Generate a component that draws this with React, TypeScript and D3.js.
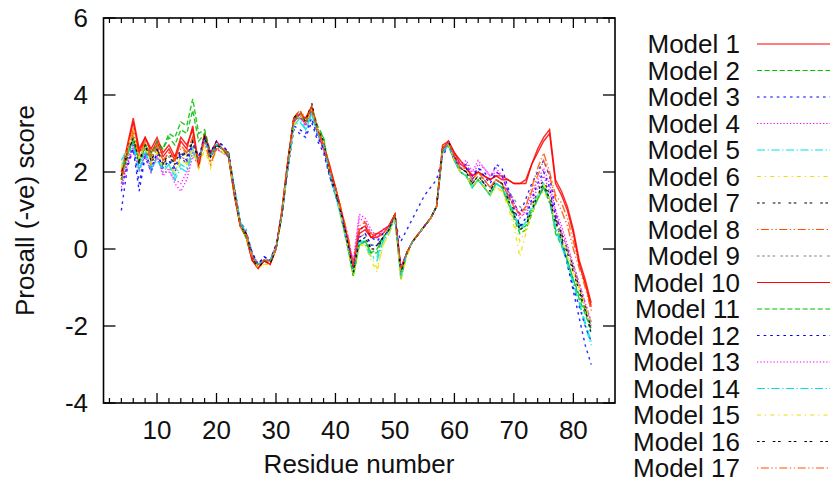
import React from "react";
import * as d3 from "d3";

const residues: number[] = d3.range(4, 84);

const model1 = [2.0, 2.7, 3.4, 2.6, 2.9, 2.5, 2.8, 2.4, 2.6, 2.3, 2.8, 2.6, 3.2, 2.2, 3.0, 2.4, 2.7, 2.6, 2.5, 1.4, 0.6, 0.3, -0.3, -0.5, -0.3, -0.4, 0.0, 1.0, 2.3, 3.4, 3.4, 3.3, 3.6, 3.0, 2.6, 2.1, 1.6, 0.9, 0.3, -0.5, 0.4, 0.5, 0.3, 0.3, 0.4, 0.6, 0.9, -0.6, -0.1, 0.2, 0.4, 0.6, 0.8, 1.1, 2.6, 2.8, 2.5, 2.2, 2.1, 1.9, 2.0, 1.9, 1.8, 1.9, 1.9, 1.8, 1.7, 1.7, 1.7, 2.2, 2.6, 2.9, 3.1, 1.8, 1.5, 1.1, 0.5, -0.3, -0.8, -1.4];
const model2 = [1.9, 2.4, 2.9, 2.2, 2.7, 2.4, 2.8, 2.6, 3.0, 2.9, 3.3, 3.2, 3.9, 3.0, 3.1, 2.5, 2.7, 2.6, 2.4, 1.4, 0.6, 0.3, -0.2, -0.4, -0.3, -0.3, 0.0, 0.9, 2.2, 3.3, 3.5, 3.3, 3.7, 3.2, 2.9, 2.0, 1.5, 0.8, 0.1, -0.7, 0.1, 0.2, -0.1, -0.1, 0.3, 0.5, 0.8, -0.7, -0.1, 0.2, 0.4, 0.6, 0.8, 1.1, 2.6, 2.7, 2.3, 2.0, 1.9, 1.6, 1.8, 1.6, 1.4, 1.7, 1.6, 1.2, 0.8, 0.4, 0.5, 0.9, 1.3, 1.6, 1.3, 0.5, 0.2, -0.3, -0.8, -1.2, -1.6, -2.0];
const model3 = [1.0, 2.1, 2.6, 1.5, 2.4, 2.0, 2.5, 2.1, 2.3, 2.0, 2.4, 2.2, 2.7, 2.4, 2.8, 2.5, 2.8, 2.7, 2.5, 1.5, 0.7, 0.4, -0.1, -0.4, -0.2, -0.3, 0.1, 0.9, 2.1, 3.1, 3.0, 2.9, 3.3, 2.8, 2.5, 1.9, 1.4, 0.9, 0.3, -0.4, 0.5, 0.6, 0.3, 0.2, 0.4, 0.6, 0.7, 0.2, 0.5, 0.8, 1.1, 1.4, 1.6, 1.8, 2.4, 2.7, 2.3, 2.1, 2.2, 1.9, 2.1, 2.0, 1.8, 2.2, 2.1, 1.6, 1.2, 0.9, 1.3, 1.7, 2.0, 2.3, 1.9, 1.0, 0.3, -0.4, -1.1, -1.8, -2.5, -3.0];
const model4 = [1.7, 2.2, 2.7, 2.0, 2.5, 2.1, 2.4, 1.9, 2.1, 1.7, 1.5, 1.8, 2.4, 2.2, 2.9, 2.4, 2.6, 2.5, 2.4, 1.5, 0.6, 0.4, -0.2, -0.4, -0.3, -0.3, 0.0, 0.9, 2.2, 3.3, 3.5, 3.2, 3.6, 3.0, 2.7, 2.0, 1.5, 0.9, 0.3, -0.3, 0.9, 0.8, 0.5, 0.3, 0.5, 0.6, 0.8, -0.5, -0.1, 0.2, 0.4, 0.6, 0.8, 1.1, 2.5, 2.8, 2.4, 2.2, 2.3, 2.0, 2.3, 2.1, 1.9, 2.1, 1.9, 1.5, 1.2, 0.9, 0.9, 1.2, 1.6, 1.9, 1.5, 0.9, 0.5, 0.0, -0.5, -1.0, -1.5, -2.0];
const model5 = [2.3, 2.6, 2.8, 2.1, 2.6, 2.0, 2.4, 2.0, 2.2, 1.9, 2.2, 2.1, 2.6, 2.2, 2.9, 2.4, 2.7, 2.6, 2.5, 1.6, 0.7, 0.4, -0.2, -0.4, -0.3, -0.3, 0.0, 0.9, 2.1, 3.2, 3.4, 3.1, 3.5, 3.0, 2.7, 2.0, 1.4, 0.8, 0.1, -0.6, 0.2, 0.2, -0.2, -0.3, 0.2, 0.4, 0.8, -0.6, -0.1, 0.2, 0.4, 0.6, 0.8, 1.1, 2.5, 2.7, 2.3, 2.0, 1.9, 1.6, 1.8, 1.6, 1.4, 1.7, 1.6, 1.3, 0.9, 0.6, 0.6, 1.0, 1.3, 1.6, 1.2, 0.6, 0.2, -0.3, -0.9, -1.4, -2.0, -2.5];
const model6 = [2.2, 2.5, 3.0, 2.4, 2.6, 2.2, 2.5, 2.1, 2.1, 2.0, 2.3, 2.2, 2.5, 2.1, 2.7, 2.2, 2.6, 2.5, 2.4, 1.5, 0.6, 0.3, -0.2, -0.5, -0.4, -0.4, 0.0, 0.9, 2.2, 3.2, 3.5, 3.3, 3.6, 3.1, 2.8, 2.0, 1.5, 0.8, 0.1, -0.7, 0.1, 0.1, -0.3, -0.6, 0.1, 0.4, 0.8, -0.7, -0.2, 0.2, 0.4, 0.6, 0.8, 1.1, 2.6, 2.7, 2.3, 2.0, 1.9, 1.6, 1.8, 1.6, 1.4, 1.6, 1.5, 1.1, 0.6, -0.2, 0.4, 0.9, 1.3, 1.5, 1.2, 0.6, 0.3, -0.2, -0.6, -1.1, -1.5, -1.9];
const model7 = [1.8, 2.4, 2.9, 2.2, 2.7, 2.2, 2.6, 2.2, 2.4, 2.2, 2.5, 2.4, 2.8, 2.3, 3.0, 2.4, 2.7, 2.6, 2.5, 1.6, 0.6, 0.4, -0.2, -0.5, -0.3, -0.4, 0.0, 0.9, 2.2, 3.4, 3.6, 3.3, 3.7, 3.1, 2.8, 2.0, 1.5, 0.9, 0.2, -0.6, 0.2, 0.3, 0.0, 0.1, 0.3, 0.5, 0.9, -0.6, -0.1, 0.2, 0.4, 0.6, 0.8, 1.1, 2.6, 2.8, 2.4, 2.1, 2.0, 1.7, 1.9, 1.7, 1.5, 1.8, 1.7, 1.4, 1.0, 0.6, 0.7, 1.1, 1.5, 1.8, 1.4, 0.8, 0.4, 0.0, -0.5, -1.0, -1.5, -2.1];
const model8 = [1.9, 2.6, 3.1, 2.5, 2.8, 2.3, 2.7, 2.3, 2.5, 2.4, 2.7, 2.5, 2.9, 2.2, 2.9, 2.3, 2.6, 2.6, 2.5, 1.5, 0.6, 0.4, -0.2, -0.4, -0.3, -0.3, 0.0, 1.0, 2.3, 3.4, 3.6, 3.4, 3.7, 3.1, 2.7, 2.1, 1.6, 1.0, 0.4, -0.4, 0.6, 0.7, 0.4, 0.4, 0.4, 0.6, 0.9, -0.5, -0.1, 0.2, 0.4, 0.6, 0.8, 1.1, 2.6, 2.8, 2.4, 2.1, 2.1, 1.8, 2.0, 1.8, 1.6, 1.8, 1.7, 1.4, 1.1, 0.9, 1.1, 1.6, 2.1, 2.5, 2.0, 1.4, 1.2, 0.8, 0.2, -0.4, -0.9, -1.5];
const model9 = [1.7, 2.3, 2.8, 2.3, 2.6, 2.3, 2.6, 2.3, 2.4, 2.1, 2.4, 2.3, 2.7, 2.4, 2.8, 2.5, 2.7, 2.7, 2.5, 1.6, 0.7, 0.5, -0.1, -0.4, -0.3, -0.3, 0.1, 1.0, 2.2, 3.3, 3.5, 3.2, 3.6, 3.1, 2.8, 2.0, 1.5, 0.9, 0.2, -0.5, 0.3, 0.4, 0.1, 0.1, 0.3, 0.5, 0.9, -0.6, -0.1, 0.2, 0.4, 0.6, 0.8, 1.1, 2.5, 2.7, 2.3, 2.1, 2.0, 1.7, 1.9, 1.8, 1.6, 1.8, 1.7, 1.5, 1.3, 1.1, 1.0, 1.2, 1.4, 1.6, 1.2, 0.7, 0.4, 0.0, -0.4, -0.9, -1.4, -1.9];
const model10 = [1.9, 2.6, 3.3, 2.5, 2.9, 2.6, 2.9, 2.5, 2.7, 2.4, 2.9, 2.7, 3.1, 2.1, 3.0, 2.5, 2.8, 2.6, 2.4, 1.4, 0.6, 0.3, -0.3, -0.5, -0.3, -0.4, 0.0, 1.0, 2.3, 3.4, 3.5, 3.4, 3.7, 3.1, 2.7, 2.2, 1.6, 1.0, 0.3, -0.5, 0.5, 0.6, 0.3, 0.4, 0.5, 0.6, 0.9, -0.5, -0.1, 0.2, 0.4, 0.6, 0.8, 1.1, 2.7, 2.8, 2.5, 2.3, 2.1, 1.9, 2.0, 1.9, 1.8, 1.9, 1.8, 1.8, 1.7, 1.7, 1.8, 2.2, 2.5, 2.8, 3.0, 1.7, 1.4, 1.0, 0.4, -0.4, -0.9, -1.5];
const model11 = [1.8, 2.5, 2.8, 2.3, 2.7, 2.5, 2.7, 2.6, 2.9, 2.7, 3.1, 3.0, 3.6, 2.8, 3.0, 2.4, 2.7, 2.6, 2.4, 1.5, 0.6, 0.3, -0.2, -0.4, -0.3, -0.3, 0.0, 0.9, 2.2, 3.3, 3.5, 3.3, 3.6, 3.1, 2.9, 2.0, 1.5, 0.8, 0.1, -0.7, 0.1, 0.2, -0.1, 0.0, 0.3, 0.5, 0.9, -0.8, -0.1, 0.2, 0.4, 0.6, 0.8, 1.1, 2.6, 2.7, 2.3, 2.0, 1.9, 1.6, 1.8, 1.6, 1.4, 1.7, 1.6, 1.2, 0.9, 0.5, 0.6, 1.0, 1.3, 1.6, 1.3, 0.4, 0.1, -0.3, -0.8, -1.3, -1.7, -2.1];
const model12 = [1.5, 2.2, 2.7, 1.7, 2.5, 2.1, 2.5, 2.1, 2.3, 2.1, 2.5, 2.3, 2.8, 2.4, 2.9, 2.5, 2.8, 2.7, 2.5, 1.6, 0.7, 0.4, -0.1, -0.4, -0.2, -0.3, 0.1, 0.9, 2.1, 3.2, 3.1, 3.0, 3.4, 2.9, 2.6, 1.9, 1.4, 0.9, 0.2, -0.5, 0.3, 0.4, 0.1, 0.1, 0.3, 0.5, 0.9, -0.5, -0.1, 0.2, 0.4, 0.6, 0.8, 1.1, 2.5, 2.7, 2.3, 2.1, 2.1, 1.8, 2.1, 1.9, 1.7, 2.0, 1.9, 1.5, 1.1, 0.6, 0.8, 1.3, 1.7, 2.0, 1.6, 0.8, 0.2, -0.4, -1.0, -1.5, -2.0, -2.4];
const model13 = [1.6, 2.2, 2.6, 2.1, 2.4, 2.0, 2.4, 2.0, 2.0, 1.8, 1.7, 2.0, 2.5, 2.3, 2.9, 2.4, 2.6, 2.5, 2.4, 1.5, 0.6, 0.4, -0.2, -0.4, -0.3, -0.3, 0.0, 0.9, 2.2, 3.3, 3.5, 3.2, 3.6, 3.0, 2.7, 2.0, 1.5, 0.9, 0.3, -0.4, 0.8, 0.7, 0.4, 0.3, 0.5, 0.6, 0.8, -0.5, -0.1, 0.2, 0.4, 0.6, 0.8, 1.1, 2.5, 2.8, 2.4, 2.2, 2.2, 1.9, 2.2, 2.1, 1.9, 2.0, 1.9, 1.5, 1.2, 0.8, 1.0, 1.4, 1.8, 2.1, 1.7, 1.0, 0.6, 0.1, -0.4, -0.9, -1.4, -1.9];
const model14 = [2.1, 2.5, 2.7, 2.0, 2.5, 2.1, 2.3, 2.1, 2.2, 1.8, 2.1, 2.0, 2.5, 2.3, 2.8, 2.4, 2.7, 2.6, 2.5, 1.6, 0.7, 0.4, -0.2, -0.4, -0.3, -0.3, 0.0, 0.9, 2.1, 3.2, 3.3, 3.1, 3.5, 3.0, 2.7, 2.0, 1.4, 0.8, 0.1, -0.6, 0.2, 0.1, -0.2, -0.2, 0.2, 0.5, 0.8, -0.7, -0.1, 0.2, 0.4, 0.6, 0.8, 1.1, 2.5, 2.7, 2.3, 2.0, 1.9, 1.6, 1.8, 1.6, 1.4, 1.7, 1.6, 1.3, 0.9, 0.5, 0.7, 1.1, 1.4, 1.7, 1.3, 0.5, 0.1, -0.4, -0.9, -1.4, -1.9, -2.4];
const model15 = [2.1, 2.6, 3.1, 2.3, 2.7, 2.2, 2.5, 2.2, 2.2, 2.0, 2.4, 2.2, 2.6, 2.1, 2.6, 2.1, 2.6, 2.5, 2.4, 1.5, 0.6, 0.3, -0.2, -0.5, -0.4, -0.4, 0.0, 0.9, 2.2, 3.2, 3.5, 3.3, 3.6, 3.1, 2.8, 2.0, 1.5, 0.8, 0.1, -0.7, 0.1, 0.1, -0.2, -0.5, 0.1, 0.4, 0.8, -0.8, -0.2, 0.2, 0.4, 0.6, 0.8, 1.1, 2.6, 2.7, 2.3, 2.0, 1.9, 1.6, 1.8, 1.6, 1.4, 1.6, 1.5, 1.2, 0.7, 0.2, 0.5, 1.0, 1.4, 1.7, 1.3, 0.7, 0.3, -0.1, -0.6, -1.0, -1.5, -1.9];
const model16 = [1.9, 2.5, 2.9, 2.3, 2.7, 2.3, 2.6, 2.2, 2.5, 2.2, 2.6, 2.4, 2.8, 2.3, 2.9, 2.4, 2.7, 2.6, 2.5, 1.5, 0.6, 0.4, -0.2, -0.5, -0.3, -0.4, 0.0, 0.9, 2.2, 3.4, 3.6, 3.3, 3.8, 3.1, 2.8, 2.0, 1.5, 0.9, 0.2, -0.6, 0.2, 0.3, 0.0, 0.0, 0.3, 0.5, 0.9, -0.6, -0.1, 0.2, 0.4, 0.6, 0.8, 1.1, 2.6, 2.8, 2.4, 2.1, 2.0, 1.7, 1.9, 1.7, 1.5, 1.8, 1.7, 1.3, 0.9, 0.5, 0.6, 1.0, 1.4, 1.7, 1.3, 0.7, 0.3, -0.1, -0.6, -1.1, -1.6, -2.2];
const model17 = [1.8, 2.5, 3.0, 2.4, 2.8, 2.4, 2.7, 2.3, 2.5, 2.3, 2.6, 2.5, 2.9, 2.3, 2.8, 2.2, 2.6, 2.6, 2.5, 1.5, 0.6, 0.4, -0.2, -0.4, -0.3, -0.3, 0.0, 1.0, 2.3, 3.4, 3.6, 3.3, 3.7, 3.1, 2.7, 2.1, 1.6, 1.0, 0.4, -0.4, 0.5, 0.6, 0.4, 0.3, 0.4, 0.6, 0.9, -0.5, -0.1, 0.2, 0.4, 0.6, 0.8, 1.1, 2.6, 2.8, 2.4, 2.1, 2.1, 1.8, 2.0, 1.8, 1.6, 1.8, 1.7, 1.4, 1.1, 0.9, 1.1, 1.5, 1.9, 2.3, 1.9, 1.3, 1.0, 0.6, 0.0, -0.5, -1.0, -1.6];

const modelNames = ["Model 1", "Model 2", "Model 3", "Model 4", "Model 5", "Model 6", "Model 7", "Model 8", "Model 9", "Model 10", "Model 11", "Model 12", "Model 13", "Model 14", "Model 15", "Model 16", "Model 17"];
const modelValues = [model1, model2, model3, model4, model5, model6, model7, model8, model9, model10, model11, model12, model13, model14, model15, model16, model17];

const xTicks = [10, 20, 30, 40, 50, 60, 70, 80];
const yTicks = [-4, -2, 0, 2, 4, 6];

const lineColors = ["#ff0000", "#00c000", "#0000ff", "#ff00ff", "#00e0e0", "#e8e000", "#000000", "#ff5000", "#808080"];
const lineDashes = ["none", "5,2.6", "2.6,4", "1.3,2", "8,2.6,1.3,2.6", "4,4,1.3,4", "2.6,2.6,2.6,8", "1.3,2.6,8,2.6,1.3,2.6", "2.6,2.6,2.6,2.6,2.6,2.6,2.6,5.2"];

const FONT = "'Liberation Sans', Arial, Helvetica, sans-serif";

export default function App() {
  const left = 103.5, right = 615, top = 18, bottom = 403;
  const x = d3.scaleLinear().domain([1, 87]).range([left, right]);
  const y = d3.scaleLinear().domain([-4, 6]).range([bottom, top]);
  const minorX = d3.range(2, 87, 2).filter((v) => v % 10 !== 0);

  const lineGen = d3
    .line<number>()
    .x((_, i) => x(residues[i]))
    .y((d) => y(d));

  const fs = 26;

  return (
    <svg width={830} height={485} style={{ position: "absolute", left: 0, top: 0, background: "#fff" }} fontFamily={FONT}>
      <rect x={0} y={0} width={830} height={485} fill="#fff" />
      <g fill="none">
        {modelValues.map((vals, k) => (
          <path
            key={k}
            d={lineGen(vals) || ""}
            stroke={lineColors[k % 9]}
            strokeWidth={1.4}
            strokeDasharray={lineDashes[k % 9]}
            strokeOpacity={0.85}
          />
        ))}
      </g>
      <rect x={left} y={top} width={right - left} height={bottom - top} fill="none" stroke="#000" strokeWidth={1.6} />
      {xTicks.map((t) => (
        <g key={"xt" + t}>
          <line x1={x(t)} x2={x(t)} y1={bottom} y2={bottom - 10} stroke="#000" strokeWidth={1.3} />
          <line x1={x(t)} x2={x(t)} y1={top} y2={top + 10} stroke="#000" strokeWidth={1.3} />
          <text x={x(t)} y={439} textAnchor="middle" fontSize={fs} fill="#111">
            {t}
          </text>
        </g>
      ))}
      {minorX.map((t) => (
        <g key={"xm" + t}>
          <line x1={x(t)} x2={x(t)} y1={bottom} y2={bottom - 5} stroke="#000" strokeWidth={1.2} />
          <line x1={x(t)} x2={x(t)} y1={top} y2={top + 5} stroke="#000" strokeWidth={1.2} />
        </g>
      ))}
      {yTicks.map((t) => (
        <g key={"yt" + t}>
          <line x1={left} x2={left + 12} y1={y(t)} y2={y(t)} stroke="#000" strokeWidth={1.3} />
          <line x1={right} x2={right - 12} y1={y(t)} y2={y(t)} stroke="#000" strokeWidth={1.3} />
          <text x={88} y={y(t) + 9} textAnchor="end" fontSize={fs} fill="#111">
            {t}
          </text>
        </g>
      ))}
      <text x={359} y={473} textAnchor="middle" fontSize={fs} fill="#111">
        Residue number
      </text>
      <text transform={`translate(34, ${(top + bottom) / 2}) rotate(-90)`} textAnchor="middle" fontSize={fs} fill="#111">
        Prosall (-ve) score
      </text>
      {modelNames.map((name, k) => {
        const by = 53 + 26.5 * k;
        return (
          <g key={"lg" + k}>
            <text x={740} y={by} textAnchor="end" fontSize={fs} fill="#111">
              {name}
            </text>
            <line
              x1={757}
              x2={860}
              y1={by - 9}
              y2={by - 9}
              stroke={lineColors[k % 9]}
              strokeWidth={1.2}
              strokeDasharray={lineDashes[k % 9]}
            />
          </g>
        );
      })}
    </svg>
  );
}
